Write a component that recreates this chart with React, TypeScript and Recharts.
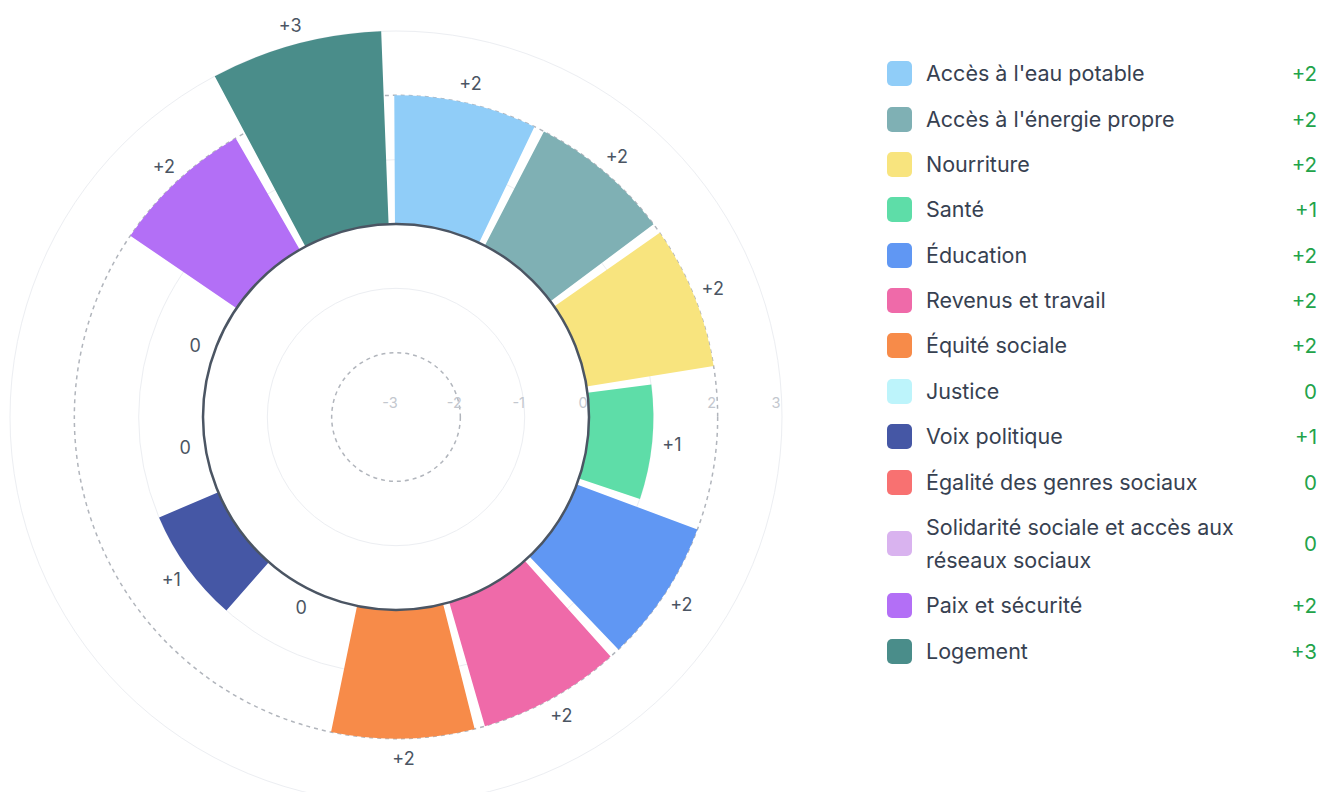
import React from "react"
import { RadialBarChart, RadialBar, PolarAngleAxis, PolarRadiusAxis, PolarGrid, Cell, Sector } from "recharts"

const categories = [
  "Accès à l'eau potable",
  "Accès à l'énergie propre",
  "Nourriture",
  "Santé",
  "Éducation",
  "Revenus et travail",
  "Équité sociale",
  "Justice",
  "Voix politique",
  "Égalité des genres sociaux",
  "Solidarité sociale et accès aux réseaux sociaux",
  "Paix et sécurité",
  "Logement",
]
const scores = [2, 2, 2, 1, 2, 2, 2, 0, 1, 0, 0, 2, 3]
const colors = [
  "#90cdf8",
  "#7fb0b4",
  "#f8e47e",
  "#5edda8",
  "#6097f3",
  "#ef6aa9",
  "#f78b49",
  "#bdf4fb",
  "#4557a5",
  "#f87171",
  "#d9b3ef",
  "#b36ff6",
  "#4a8d8a",
]
const radiusTicks = [-3, -2, -1, 0, 1, 2, 3]

const DOMAIN: [number, number] = [-3, 3]
const OUTER_R = 386
const CX = 388
const CY = 409
const RAD = Math.PI / 180
// first band has to end at 12 o'clock, going clockwise
const START = 90 - 360 / categories.length
const GAP = 2.2

const data = categories.map((name, i) => ({ name, value: scores[i], fill: colors[i] }))

// same linear scale as the radius axis, used for the styled rings
const ringR = (v: number) => ((v - DOMAIN[0]) / (DOMAIN[1] - DOMAIN[0])) * OUTER_R

const fmt = (v: number) => (v > 0 ? `+${v}` : `${v}`)

const BarShape = (p: any) => {
  const v = p.payload && typeof p.payload.value === "number" ? p.payload.value : Array.isArray(p.value) ? p.value[1] : p.value
  const mid = (p.startAngle + GAP + p.endAngle) / 2
  const r = p.outerRadius + 20
  const x = p.cx + Math.cos(-mid * RAD) * r
  const y = p.cy + Math.sin(-mid * RAD) * r
  return (
    <g>
      {v !== 0 && (
        <Sector
          cx={p.cx}
          cy={p.cy}
          innerRadius={p.innerRadius}
          outerRadius={p.outerRadius}
          startAngle={p.startAngle + GAP}
          endAngle={p.endAngle}
          fill={p.fill}
          stroke="none"
        />
      )}
      <text x={x} y={y} textAnchor="middle" dominantBaseline="central" fontSize={18} fill="#4b5563">
        {fmt(v)}
      </text>
    </g>
  )
}

const RadiusTick = (p: any) => (
  <text x={p.x - 6} y={p.y - 15} textAnchor="middle" dominantBaseline="central" fontSize={14.5} fill="#c3c7ce">
    {p.payload.value}
  </text>
)

export default function App() {
  return (
    <div style={{ position: "relative", width: 1309, height: 784, fontFamily: "Inter, 'Noto Sans', sans-serif" }}>
      <div style={{ position: "absolute", left: 0, top: 0 }}>
        <RadialBarChart
          width={800}
          height={784}
          cx={CX}
          cy={CY}
          innerRadius={0}
          outerRadius={OUTER_R}
          startAngle={START}
          endAngle={START - 360}
          data={data}
          layout="centric"
          barCategoryGap={0}
          style={{ fontFamily: "Inter, 'Noto Sans', sans-serif" }}
        >
          <PolarGrid gridType="circle" radialLines={false} polarRadius={[ringR(-1), ringR(1), ringR(3)]} stroke="#eceef2" />
          <PolarGrid gridType="circle" radialLines={false} polarRadius={[ringR(-2), ringR(2)]} stroke="#b1b5bc" strokeDasharray="4 4" strokeWidth={1.5} />
          <PolarAngleAxis type="category" dataKey="name" tick={false} axisLine={false} tickLine={false} />
          <PolarRadiusAxis type="number" domain={DOMAIN} ticks={radiusTicks} angle={0} axisLine={false} tickLine={false} tick={RadiusTick} zIndex={-50} />
          <RadialBar dataKey="value" isAnimationActive={false} shape={BarShape}>
            {data.map((d, i) => (
              <Cell key={i} fill={d.fill} />
            ))}
          </RadialBar>
          <PolarGrid gridType="circle" radialLines={false} polarRadius={[ringR(0)]} stroke="#4b5563" strokeWidth={2.5} zIndex={500} />
        </RadialBarChart>
      </div>
      <div style={{ position: "absolute", left: 879, top: 43, width: 430 }}>
        {categories.map((name, i) => (
          <div key={name} style={{ display: "flex", alignItems: "center", padding: "6.2px 0" }}>
            <div style={{ width: 25, height: 25, borderRadius: 5, background: colors[i], flexShrink: 0 }} />
            <div style={{ marginLeft: 14, width: 330, fontSize: 21.5, lineHeight: "33px", color: "#374151" }}>{name}</div>
            <div style={{ flex: 1, textAlign: "right", fontSize: 20.5, color: "#22a34a" }}>{fmt(scores[i])}</div>
          </div>
        ))}
      </div>
    </div>
  )
}
